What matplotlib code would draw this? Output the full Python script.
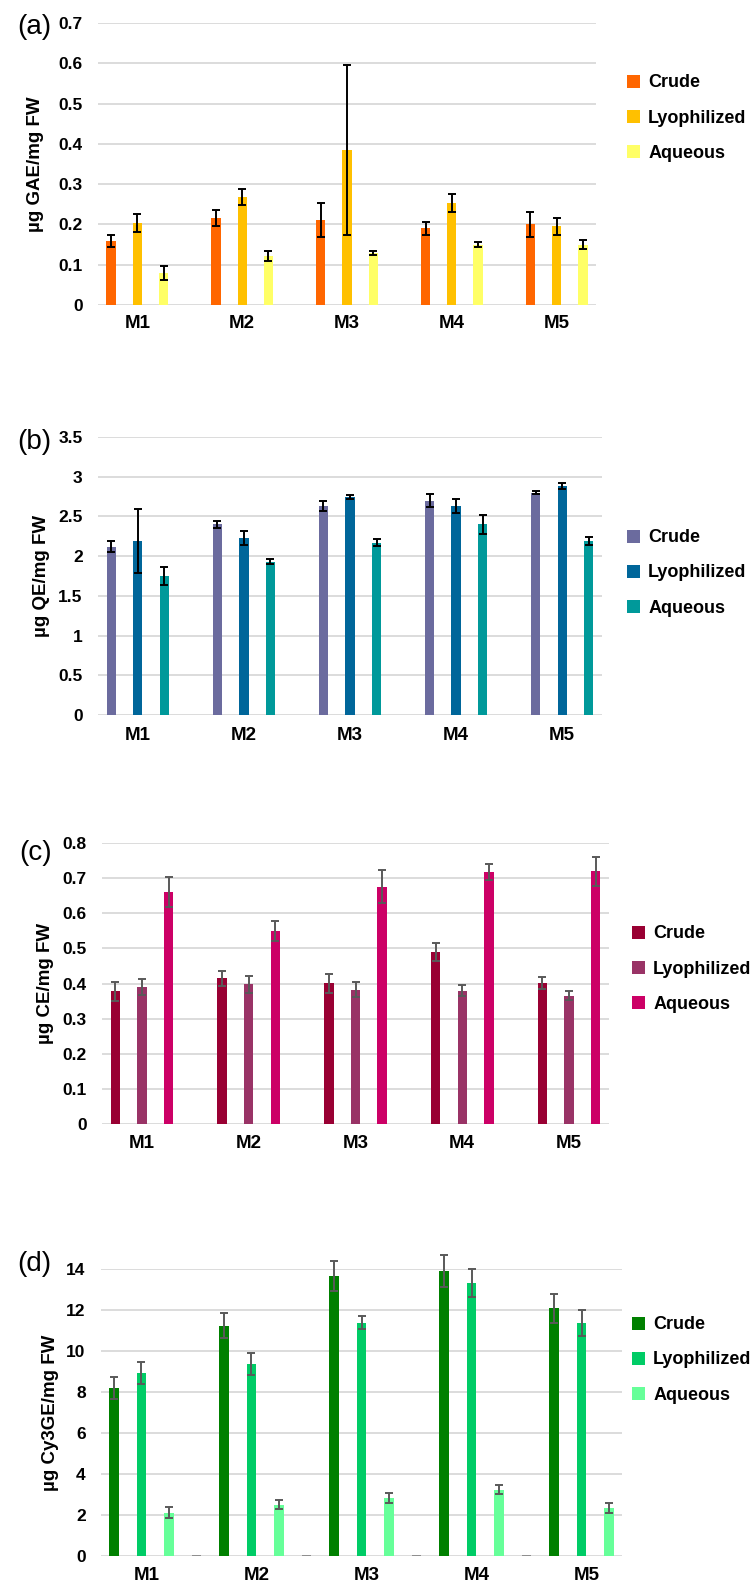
import numpy as np
import matplotlib
matplotlib.use("Agg")
import matplotlib.pyplot as plt

plt.rcParams['font.family'] = ['Liberation Sans', 'DejaVu Sans']

W, H = 755, 1591

categories = ["M1", "M2", "M3", "M4", "M5"]
series = ["Crude", "Lyophilized", "Aqueous"]

# (a) total phenolics
a_crude = [0.160, 0.215, 0.210, 0.190, 0.200]
a_crude_err = [0.015, 0.020, 0.042, 0.016, 0.030]
a_lyo = [0.204, 0.267, 0.385, 0.254, 0.195]
a_lyo_err = [0.022, 0.020, 0.210, 0.022, 0.022]
a_aq = [0.079, 0.122, 0.130, 0.150, 0.150]
a_aq_err = [0.018, 0.013, 0.005, 0.006, 0.012]
a_ticks = [0, 0.1, 0.2, 0.3, 0.4, 0.5, 0.6, 0.7]

# (b) flavonoids
b_crude = [2.12, 2.40, 2.63, 2.70, 2.80]
b_crude_err = [0.065, 0.045, 0.065, 0.085, 0.015]
b_lyo = [2.19, 2.23, 2.745, 2.63, 2.88]
b_lyo_err = [0.40, 0.09, 0.02, 0.088, 0.04]
b_aq = [1.75, 1.93, 2.17, 2.40, 2.19]
b_aq_err = [0.11, 0.03, 0.04, 0.12, 0.05]
b_ticks = [0, 0.5, 1, 1.5, 2, 2.5, 3, 3.5]

# (c) tannins
c_crude = [0.378, 0.415, 0.401, 0.490, 0.401]
c_crude_err = [0.027, 0.022, 0.027, 0.025, 0.017]
c_lyo = [0.390, 0.398, 0.382, 0.380, 0.365]
c_lyo_err = [0.023, 0.024, 0.021, 0.015, 0.013]
c_aq = [0.660, 0.549, 0.676, 0.717, 0.719]
c_aq_err = [0.042, 0.028, 0.047, 0.023, 0.040]
c_ticks = [0, 0.1, 0.2, 0.3, 0.4, 0.5, 0.6, 0.7, 0.8]

# (d) anthocyanins, plus the empty fourth series
d_crude = [8.20, 11.23, 13.67, 13.90, 12.08]
d_crude_err = [0.52, 0.62, 0.73, 0.80, 0.70]
d_lyo = [8.92, 9.37, 11.39, 13.32, 11.36]
d_lyo_err = [0.52, 0.52, 0.33, 0.70, 0.62]
d_aq = [2.11, 2.51, 2.84, 3.24, 2.35]
d_aq_err = [0.27, 0.20, 0.24, 0.21, 0.25]
d_blank = [0, 0, 0, 0, 0]
d_ticks = [0, 2, 4, 6, 8, 10, 12, 14]


def px_axes(fig, x0, x1, y0, y1):
    return fig.add_axes([x0 / W, 1 - y1 / H, (x1 - x0) / W, (y1 - y0) / H])


def panel(fig, box, tag, tag_xy, ylabel, ylab_x, vals, errs, colors, ecolor,
          ticks, leg_xy, xlim, offsets, label_shift=0.0, xpad=5, blank=None):
    x0, x1, y0, y1 = box
    ax = px_axes(fig, x0, x1, y0, y1)
    x = np.arange(len(categories))
    width = 0.088
    bars = []
    for k, (v, e, c) in enumerate(zip(vals, errs, colors)):
        b = ax.bar(x + offsets[k], v, width, color=c, label=series[k], zorder=2)
        ax.errorbar(x + offsets[k], v, yerr=e, fmt='none', ecolor=ecolor,
                    elinewidth=1.4, capsize=3, capthick=1.4, zorder=3,
                    clip_on=False)
        bars.append(b)
    if blank is not None:
        ax.bar(x + offsets[3], blank, width, color='none', edgecolor='#808080',
               linewidth=1.2, zorder=2)
    ax.set_xlim(*xlim)
    ax.set_ylim(ticks[0], ticks[-1])
    ax.set_yticks(ticks)
    ax.set_yticklabels([f"{t:g}" for t in ticks], fontsize=12.5, fontweight='bold')
    ax.set_xticks(x + label_shift)
    ax.set_xticklabels(categories, fontsize=13.5, fontweight='bold')
    ax.tick_params(axis='both', length=0)
    ax.tick_params(axis='y', pad=11)
    ax.tick_params(axis='x', pad=xpad)
    for s in ax.spines.values():
        s.set_visible(False)
    ax.yaxis.grid(True, color='#d9d9d9', linewidth=1.3)
    ax.set_axisbelow(True)
    ax.set_ylabel(ylabel, fontsize=13.5, fontweight='bold')
    ax.yaxis.set_label_coords((ylab_x - x0) / (x1 - x0), 0.5)
    fig.text(tag_xy[0] / W, 1 - tag_xy[1] / H, tag, fontsize=20,
             ha='center', va='center')
    fig.legend(handles=bars, labels=series, loc='center left',
               bbox_to_anchor=(leg_xy[0] / W, 1 - leg_xy[1] / H),
               frameon=False, prop={'weight': 'bold', 'size': 13},
               handlelength=0.72, handleheight=0.72, handletextpad=0.45,
               labelspacing=1.0, borderpad=0, borderaxespad=0)
    return ax


fig = plt.figure(figsize=(W / 100, H / 100), dpi=100)

off3 = [-0.25, 0, 0.25]
off4 = [-0.375, -0.125, 0.125, 0.375]

panel(fig, (98, 596, 23, 305), "(a)", (34, 27), "µg GAE/mg FW", 44,
      [a_crude, a_lyo, a_aq], [a_crude_err, a_lyo_err, a_aq_err],
      ['#ff6600', '#ffc000', '#ffff66'], 'black', a_ticks, (627, 118),
      (-0.375, 4.375), off3, xpad=7)

panel(fig, (98, 602, 437, 715), "(b)", (34, 442), "µg QE/mg FW", 50,
      [b_crude, b_lyo, b_aq], [b_crude_err, b_lyo_err, b_aq_err],
      ['#6b6b9e', '#00669a', '#00999a'], 'black', b_ticks, (627, 573),
      (-0.375, 4.375), off3, xpad=9)

panel(fig, (102, 609, 843, 1124), "(c)", (36, 853), "µg CE/mg FW", 54,
      [c_crude, c_lyo, c_aq], [c_crude_err, c_lyo_err, c_aq_err],
      ['#990033', '#993366', '#cc0066'], '#595959', c_ticks, (632, 969),
      (-0.375, 4.375), off3, xpad=8)

panel(fig, (101, 622, 1269, 1556), "(d)", (34, 1264), "µg Cy3GE/mg FW", 59,
      [d_crude, d_lyo, d_aq], [d_crude_err, d_lyo_err, d_aq_err],
      ['#008000', '#00cc66', '#66ff99'], '#595959', d_ticks, (632, 1360),
      (-0.493, 4.243), off4, label_shift=-0.075, xpad=8, blank=d_blank)

fig.savefig("out.png", dpi=100)
